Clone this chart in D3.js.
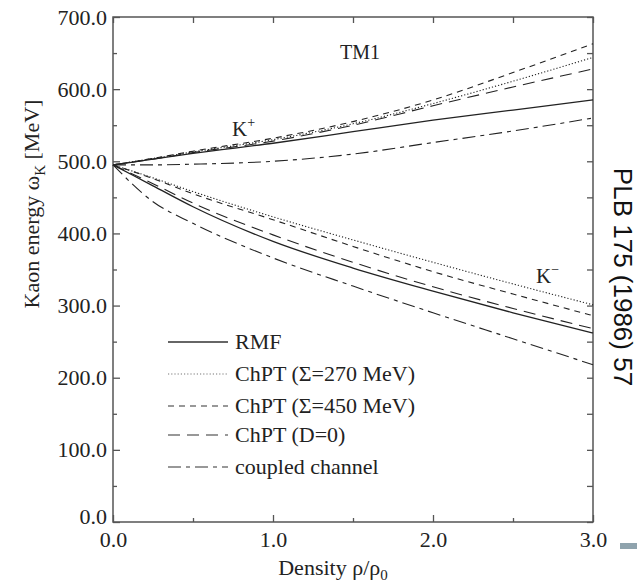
<!DOCTYPE html>
<html><head><meta charset="utf-8">
<script src="https://cdn.jsdelivr.net/npm/d3@7"></script>
<style>body{margin:0;background:#fff}svg{display:block}</style>
</head><body>
<svg id="c" width="637" height="583" style="font-family:'Liberation Serif','Times New Roman',serif"></svg>
<script>
const density = [0, 0.25, 0.5, 1.0, 1.5, 2.0, 2.5, 3.0];
// K+ branch
const kplusRMF     = [495, 503, 511, 525, 541, 557, 571, 585];
const kplusChPT270 = [495, 504, 513, 530, 552, 580, 611, 644];
const kplusChPT450 = [495, 504, 514, 532, 555, 585, 623, 663];
const kplusChPTD0  = [495, 503, 512, 528, 550, 577, 603, 628];
const kplusCoupled = [495, 495, 496, 500, 510, 526, 542, 560];
// K- branch
const kminusRMF     = [495, 466, 437, 389, 352, 320, 290, 262];
const kminusChPT270 = [495, 477, 458, 423, 391, 360, 330, 301];
const kminusChPT450 = [495, 476, 455, 419, 382, 347, 316, 286];
const kminusChPTD0  = [495, 469, 442, 398, 360, 326, 296, 268];
const kminusCoupled = [495, 444, 414, 366, 327, 290, 254, 218];
const legendLabels = ["RMF", "ChPT (\u03A3=270 MeV)", "ChPT (\u03A3=450 MeV)", "ChPT (D=0)", "coupled channel"];
const xTicks = [0, 1, 2, 3];
const xMinor = [0.5, 1.5, 2.5];
const yTicks = [0, 100, 200, 300, 400, 500, 600, 700];
const yMinor = [50, 150, 250, 350, 450, 550, 650];

const SERIF = "'Liberation Serif','Times New Roman',serif";
const series = [
  {name: legendLabels[0], plus: kplusRMF, minus: kminusRMF, dash: null, w: 1.3},
  {name: legendLabels[1], plus: kplusChPT270, minus: kminusChPT270, dash: "1.2,2", w: 1.1},
  {name: legendLabels[2], plus: kplusChPT450, minus: kminusChPT450, dash: "6,5", w: 1.1},
  {name: legendLabels[3], plus: kplusChPTD0, minus: kminusChPTD0, dash: "12,7", w: 1.1},
  {name: legendLabels[4], plus: kplusCoupled, minus: kminusCoupled, dash: "13,5,4,5", w: 1.1}
];

const svg = d3.select("#c");
const L = 113, R = 593, T = 17, B = 522;
const x = d3.scaleLinear().domain([0, 3]).range([L, R]);
const y = d3.scaleLinear().domain([0, 700]).range([B, T]);
const axisColor = "#555";

svg.append("rect").attr("x", L).attr("y", T).attr("width", R - L).attr("height", B - T)
  .attr("fill", "none").attr("stroke", axisColor).attr("stroke-width", 1.5);

function styleAxis(g) {
  g.attr("font-family", null).attr("font-size", null);
  g.select(".domain").remove();
  g.selectAll(".tick line").attr("stroke", axisColor).attr("stroke-width", 1.3);
  g.selectAll("text").style("font-family", SERIF).style("font-size", "22px").attr("fill", "#222");
}
svg.append("g").attr("transform", `translate(0,${B})`)
  .call(d3.axisBottom(x).tickValues(xTicks).tickSize(-7).tickPadding(9).tickFormat(d3.format(".1f")))
  .call(styleAxis);
svg.append("g").attr("transform", `translate(0,${B})`)
  .call(d3.axisBottom(x).tickValues(xMinor).tickSize(-4).tickFormat("")).call(styleAxis);
svg.append("g").attr("transform", `translate(0,${T})`)
  .call(d3.axisTop(x).tickValues(xTicks.concat(xMinor)).tickSize(-6).tickFormat("")).call(styleAxis);
svg.append("g").attr("transform", `translate(${L},0)`)
  .call(d3.axisLeft(y).tickValues(yTicks).tickSize(-7).tickPadding(6).tickFormat(d3.format(".1f")))
  .call(styleAxis)
  .call(g => g.selectAll(".tick").filter(d => d === 0).select("text").attr("dy", "0.05em"));
svg.append("g").attr("transform", `translate(${L},0)`)
  .call(d3.axisLeft(y).tickValues(yMinor).tickSize(-4).tickFormat("")).call(styleAxis);
svg.append("g").attr("transform", `translate(${R},0)`)
  .call(d3.axisRight(y).tickValues(yTicks.concat(yMinor)).tickSize(-6).tickFormat("")).call(styleAxis);

const line = d3.line().x((d, i) => x(density[i])).y(d => y(d)).curve(d3.curveMonotoneX);
const curves = svg.append("g");
series.forEach(s => {
  [s.plus, s.minus].forEach(arr => {
    curves.append("path").attr("d", line(arr)).attr("fill", "none")
      .attr("stroke", "#222").attr("stroke-width", s.w)
      .attr("stroke-dasharray", s.dash);
  });
});

function txt(sel) { return sel.style("font-family", SERIF).style("fill", "#222"); }

const leg = svg.append("g");
series.forEach((s, i) => {
  const ly = [342, 374, 406, 435, 467][i];
  leg.append("line").attr("x1", 168).attr("x2", 228).attr("y1", ly).attr("y2", ly)
    .attr("stroke", i === 1 ? "#777" : "#333").attr("stroke-width", s.w).attr("stroke-dasharray", s.dash);
  txt(leg.append("text")).attr("x", 235).attr("y", ly + 7).style("font-size", "22px").text(s.name);
});

txt(svg.append("text")).attr("x", 360).attr("y", 59).attr("text-anchor", "middle").style("font-size", "20px").text("TM1");
const kp = txt(svg.append("text")).attr("x", 232).attr("y", 136).style("font-size", "21px");
kp.append("tspan").text("K");
kp.append("tspan").attr("dy", -9).style("font-size", "14px").text("+");
const km = txt(svg.append("text")).attr("x", 536).attr("y", 283).style("font-size", "21px");
km.append("tspan").text("K");
km.append("tspan").attr("dy", -9).style("font-size", "14px").text("\u2212");

const xt = txt(svg.append("text")).attr("x", 333).attr("y", 575).attr("text-anchor", "middle").style("font-size", "22px");
xt.append("tspan").text("Density \u03C1/\u03C1");
xt.append("tspan").attr("dy", 5).style("font-size", "15px").text("0");
const yt = txt(svg.append("text")).attr("transform", "translate(39,204) rotate(-90)").attr("text-anchor", "middle").style("font-size", "22px");
yt.append("tspan").text("Kaon energy \u03C9");
yt.append("tspan").attr("dy", 6).style("font-size", "15px").text("K");
yt.append("tspan").attr("dy", -6).text(" [MeV]");

svg.append("text").attr("transform", "translate(614,277) rotate(90)").attr("text-anchor", "middle")
  .style("font-family", "'Liberation Sans', Arial, sans-serif").style("font-size", "26px").style("fill", "#111")
  .text("PLB 175 (1986) 57");
svg.append("rect").attr("x", 620).attr("y", 543).attr("width", 17).attr("height", 6).attr("fill", "#8fa3ad");
</script>
</body></html>
